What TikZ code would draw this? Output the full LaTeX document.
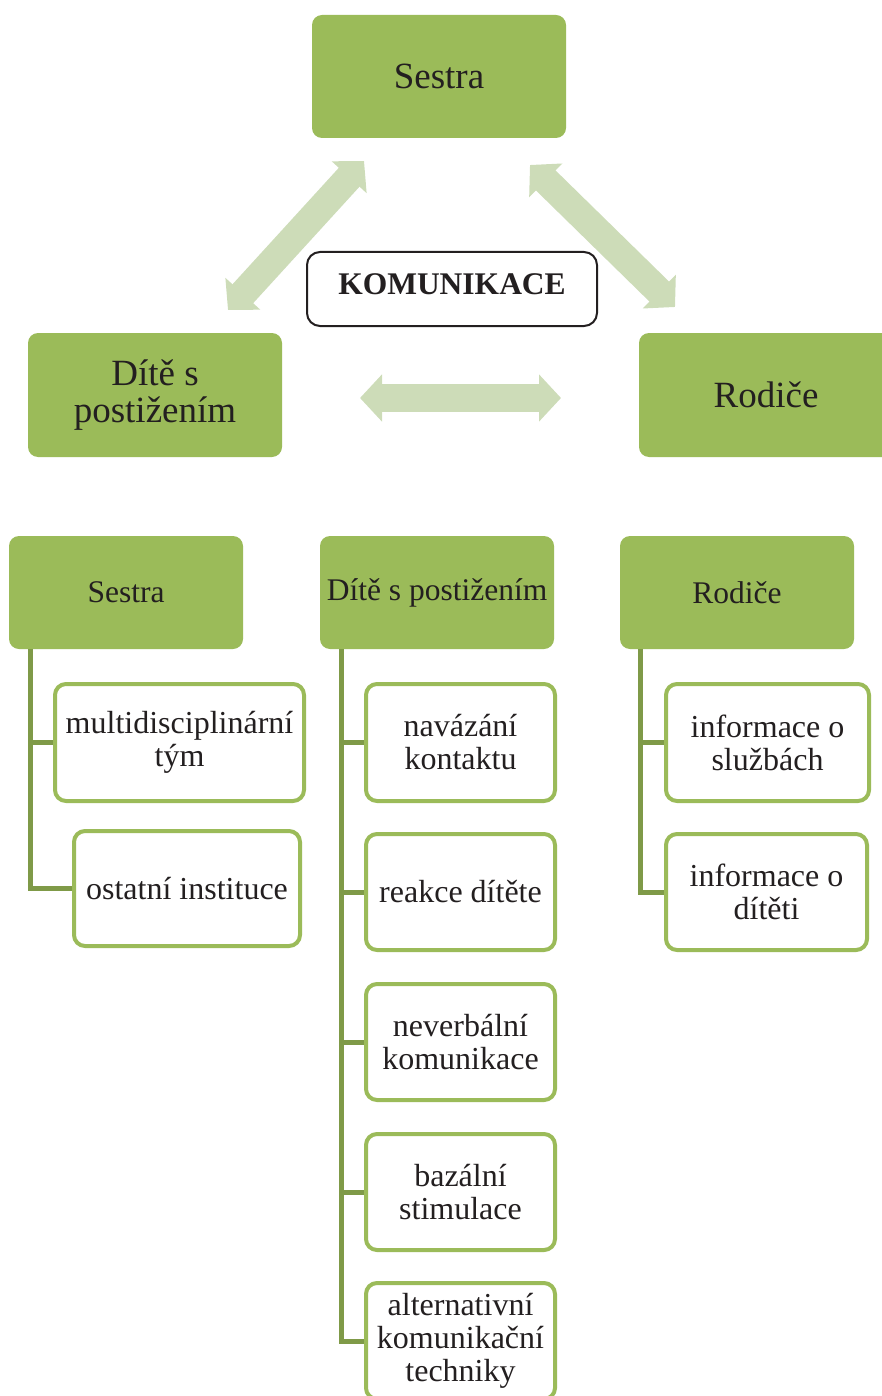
\documentclass[tikz,border=0pt]{standalone}
\usepackage{fontspec}
\setmainfont{Liberation Serif}
\usetikzlibrary{arrows.meta,calc}
\definecolor{hdrgreen}{HTML}{9BBB59}
\definecolor{lightarrow}{HTML}{CDDCB8}
\definecolor{trunkgreen}{HTML}{7F9A48}
\definecolor{ink}{HTML}{231F20}
\begin{document}
\begin{tikzpicture}[x=1pt,y=-1pt,
  hdr/.style={fill=hdrgreen, rounded corners=10pt, inner sep=0pt, text=ink, align=center},
  bigtxt/.style={font=\fontsize{37}{37}\selectfont},
  midtxt/.style={font=\fontsize{31.5}{33}\selectfont},
  item/.style={draw=hdrgreen, line width=4pt, fill=white, rounded corners=11pt,
    inner sep=0pt, text=ink, align=center, font=\fontsize{32}{33}\selectfont},
  conn/.style={draw=trunkgreen, line width=5pt},
  link/.style={draw=lightarrow, line width=28pt,
    {Triangle[length=22pt,width=46pt]}-{Triangle[length=22pt,width=46pt]}}
]
\useasboundingbox (0,0) rectangle (882,1396);

% --- upper triangle of communication ---
\node[hdr, bigtxt, minimum width=254pt, minimum height=123pt] (sestraT) at (439,76.5) {Sestra};
\node[hdr, bigtxt, minimum width=254pt, minimum height=124pt] (diteT) at (155,395) {Dítě s\\postižením};
\node[hdr, bigtxt, minimum width=254pt, minimum height=124pt] (rodiceT) at (766,395) {Rodiče};
\node[draw=ink, line width=2pt, rounded corners=13pt, fill=white, inner sep=0pt,
  minimum width=290pt, minimum height=74pt, text=ink, text depth=10pt,
  font=\fontsize{31.5}{33}\selectfont\bfseries] (kom) at (452,289) {KOMUNIKACE};

\coordinate (lA) at (228,310);
\coordinate (lB) at (364,161);
\coordinate (rA) at (530,165);
\coordinate (rB) at (675,307);
\coordinate (hA) at (360,398);
\coordinate (hB) at (561,398);
\draw[link] (lA) -- (lB);
\draw[link] (rA) -- (rB);
\draw[link] (hA) -- (hB);

% --- lower hierarchy ---
\node[hdr, midtxt, minimum width=234pt, minimum height=113pt] (sestraB) at (126,592.5) {Sestra};
\node[hdr, midtxt, minimum width=234pt, minimum height=113pt] (diteB) at (437,592.5) {Dítě s postižením};
\node[hdr, midtxt, minimum width=234pt, minimum height=113pt] (rodiceB) at (737,592.5) {Rodiče};

\node[item, minimum width=249pt, minimum height=117pt] (multi) at (179.5,742.5) {multidisciplinární\\tým};
\node[item, minimum width=226pt, minimum height=115pt] (ostatni) at (187,888.5) {ostatní instituce};

\node[item, minimum width=189pt, minimum height=117pt] (navazani) at (460.5,742.5) {navázání\\kontaktu};
\node[item, minimum width=189pt, minimum height=116pt] (reakce) at (460.5,892) {reakce dítěte};
\node[item, minimum width=189pt, minimum height=116pt] (neverb) at (460.5,1042) {neverbální\\komunikace};
\node[item, minimum width=189pt, minimum height=116pt] (bazal) at (460.5,1192) {bazální\\stimulace};
\node[item, minimum width=189pt, minimum height=116pt] (altern) at (460.5,1341) {alternativní\\komunikační\\techniky};

\node[item, minimum width=203pt, minimum height=117pt] (sluzby) at (767.5,742.5) {informace o\\službách};
\node[item, minimum width=201pt, minimum height=116pt] (oditeti) at (766.5,892) {informace o\\dítěti};

% trunks under each header
\coordinate (tS) at ([xshift=22pt]sestraB.south west);
\coordinate (tD) at ([xshift=22pt]diteB.south west);
\coordinate (tR) at ([xshift=21pt]rodiceB.south west);

\draw[conn] (tS) |- (ostatni.west);
\draw[conn] (tS |- multi.west) -- (multi.west);

\draw[conn] (tD) |- (altern.west);
\draw[conn] (tD |- navazani.west) -- (navazani.west);
\draw[conn] (tD |- reakce.west) -- (reakce.west);
\draw[conn] (tD |- neverb.west) -- (neverb.west);
\draw[conn] (tD |- bazal.west) -- (bazal.west);

\draw[conn] (tR) |- (oditeti.west);
\draw[conn] (tR |- sluzby.west) -- (sluzby.west);
\end{tikzpicture}
\end{document}
